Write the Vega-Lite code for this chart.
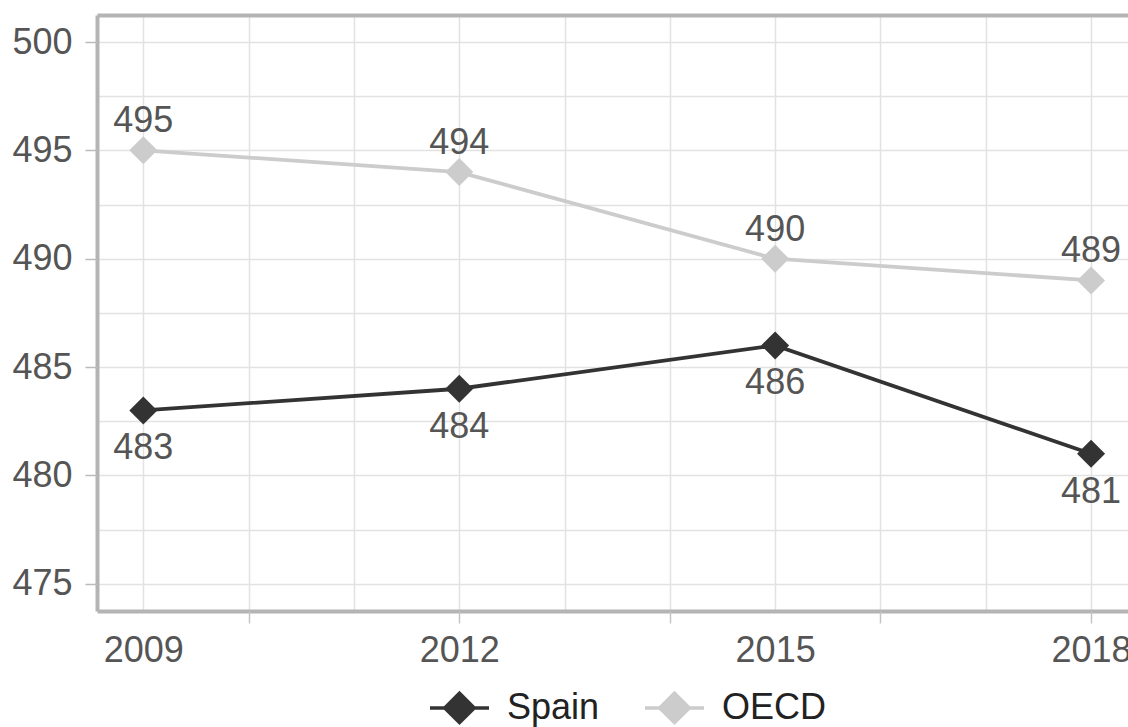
{
  "$schema": "https://vega.github.io/schema/vega-lite/v6.json",
  "width": 1031,
  "height": 596,
  "autosize": {"type": "none"},
  "padding": {"left": 97, "top": 15, "right": 0, "bottom": 116},
  "background": "white",
  "config": {"view": {"stroke": null}, "font": "Liberation Sans"},
  "data": {
    "values": [
      {"year": 2009, "series": "Spain", "score": 483},
      {"year": 2012, "series": "Spain", "score": 484},
      {"year": 2015, "series": "Spain", "score": 486},
      {"year": 2018, "series": "Spain", "score": 481},
      {"year": 2009, "series": "OECD", "score": 495},
      {"year": 2012, "series": "OECD", "score": 494},
      {"year": 2015, "series": "OECD", "score": 490},
      {"year": 2018, "series": "OECD", "score": 489}
    ]
  },
  "layer": [
    {
      "mark": {"type": "line", "strokeWidth": 3.8},
      "encoding": {
        "x": {
          "field": "year", "type": "quantitative",
          "scale": {"domain": [2008.56, 2018.351], "nice": false, "zero": false},
          "axis": {"orient": "bottom", "values": [2009, 2010, 2011, 2012, 2013, 2014, 2015, 2016, 2017, 2018], "grid": true, "gridColor": "#e2e2e2", "gridWidth": 1.5, "ticks": false, "labels": false, "domain": true, "domainColor": "#b4b4b4", "domainWidth": 4, "title": null}
        },
        "y": {
          "field": "score", "type": "quantitative",
          "scale": {"domain": [473.744, 501.247], "nice": false, "zero": false},
          "axis": {"orient": "left", "values": [475, 477.5, 480, 482.5, 485, 487.5, 490, 492.5, 495, 497.5, 500], "grid": true, "gridColor": "#e2e2e2", "gridWidth": 1.5, "ticks": false, "labels": false, "domain": true, "domainColor": "#b4b4b4", "domainWidth": 4, "title": null}
        },
        "color": {
          "field": "series", "type": "nominal",
          "scale": {"domain": ["Spain", "OECD"], "range": ["#333333", "#cccccc"]},
          "legend": {
            "orient": "none", "legendX": 331, "legendY": 661, "direction": "horizontal", "title": null,
            "symbolType": "M-1,0H1M-0.5,0L0,-0.5L0.5,0L0,0.5Z",
            "symbolSize": 3481, "symbolStrokeWidth": 3.5,
            "labelFontSize": 36, "labelColor": "#222222", "labelFont": "Liberation Sans",
            "labelOffset": 16, "columnPadding": 38,
            "encode": {"symbols": {"update": {"fill": {"scale": "color", "field": "value"}, "stroke": {"scale": "color", "field": "value"}, "opacity": {"value": 1}}}}
          }
        }
      }
    },
    {
      "mark": {"type": "point", "shape": "diamond", "filled": true, "size": 784, "opacity": 1},
      "encoding": {
        "x": {
          "field": "year", "type": "quantitative",
          "axis": {"orient": "bottom", "values": [2010, 2012, 2014, 2016, 2018], "grid": false, "ticks": true, "tickColor": "#c4c4c4", "tickSize": 12, "tickWidth": 1.5, "labels": false, "domain": false, "title": null}
        },
        "y": {
          "field": "score", "type": "quantitative",
          "axis": {"orient": "left", "values": [475, 480, 485, 490, 495, 500], "grid": false, "ticks": true, "tickColor": "#bbbbbb", "tickSize": 12, "tickWidth": 1.5, "labels": true, "labelFontSize": 36, "labelColor": "#555555", "labelPadding": 13, "labelFont": "Liberation Sans", "domain": false, "title": null}
        },
        "color": {"field": "series", "type": "nominal", "legend": null}
      }
    },
    {
      "transform": [{"filter": "datum.series === 'OECD'"}],
      "mark": {"type": "text", "dy": -29, "fontSize": 36, "color": "#555555", "font": "Liberation Sans"},
      "encoding": {
        "x": {
          "field": "year", "type": "quantitative",
          "axis": {"orient": "bottom", "values": [2009, 2012, 2015, 2018], "format": "d", "grid": false, "ticks": false, "tickSize": 0, "labels": true, "labelFontSize": 36, "labelColor": "#555555", "labelPadding": 22, "labelFlush": false, "labelFont": "Liberation Sans", "domain": false, "title": null}
        },
        "y": {"field": "score", "type": "quantitative", "axis": null},
        "text": {"field": "score", "type": "quantitative"}
      }
    },
    {
      "transform": [{"filter": "datum.series === 'Spain'"}],
      "mark": {"type": "text", "dy": 38, "fontSize": 36, "color": "#555555", "font": "Liberation Sans"},
      "encoding": {
        "x": {
          "field": "year", "type": "quantitative",
          "axis": {"orient": "top", "grid": false, "ticks": false, "labels": false, "domain": true, "domainColor": "#b4b4b4", "domainWidth": 4, "title": null}
        },
        "y": {"field": "score", "type": "quantitative", "axis": null},
        "text": {"field": "score", "type": "quantitative"}
      }
    }
  ],
  "resolve": {"axis": {"x": "independent", "y": "independent"}}
}
